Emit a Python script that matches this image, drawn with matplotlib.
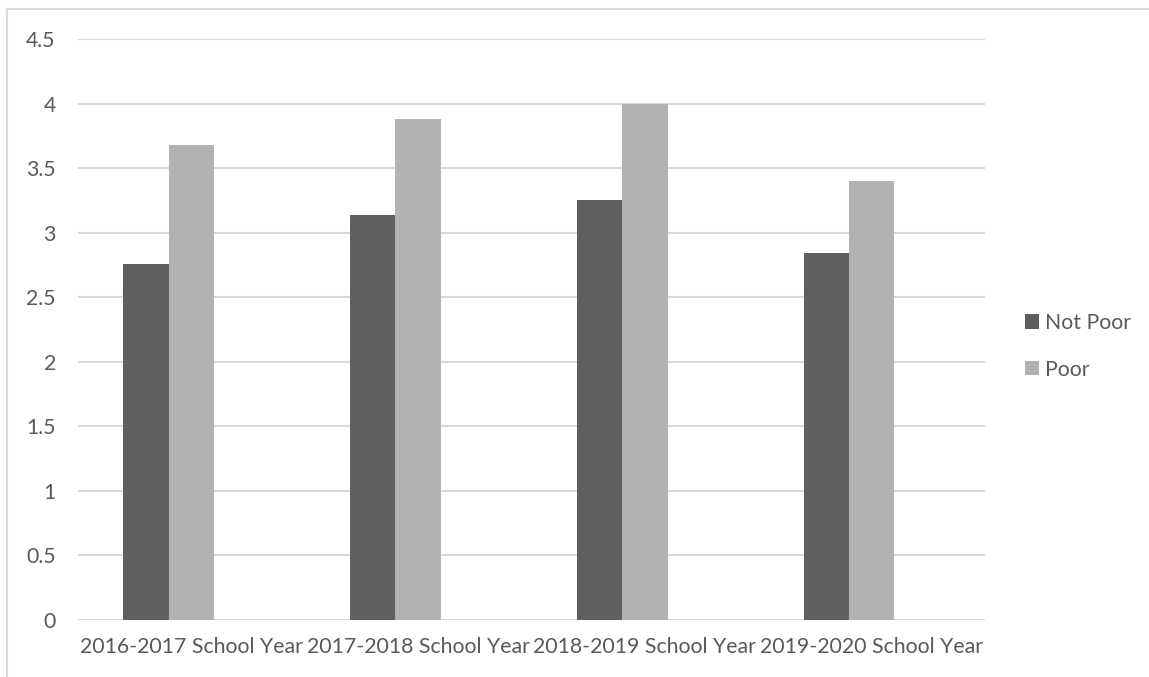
import numpy as np
import matplotlib
matplotlib.use("Agg")
import matplotlib.pyplot as plt
from matplotlib.lines import Line2D

# Datos
years = ["2016-2017 School Year", "2017-2018 School Year",
         "2018-2019 School Year", "2019-2020 School Year"]
not_poor = [2.76, 3.14, 3.25, 2.84]
poor = [3.68, 3.88, 4.00, 3.40]
yticks = [0, 0.5, 1, 1.5, 2, 2.5, 3, 3.5, 4, 4.5]

plt.rcParams["font.family"] = ["Lato", "DejaVu Sans"]
text_color = "#595959"
fsize = 15.3

fig = plt.figure(figsize=(11.49, 6.77), dpi=100)
ax = fig.add_axes([78 / 1149, 1 - 620 / 677, (985 - 78) / 1149, (620 - 39) / 677])

x = np.arange(len(years))
width = 0.2  # tres barras por grupo (la tercera serie vacia)

ax.bar(x - width, not_poor, width=width, color="#5f5f5f", label="Not Poor", zorder=3)
ax.bar(x, poor, width=width, color="#b2b2b2", label="Poor", zorder=3)

ax.set_xlim(-0.5, len(years) - 0.5)
ax.set_ylim(0, 4.5)
ax.set_yticks(yticks)
ax.set_yticklabels([f"{v:g}" for v in yticks])
ax.set_xticks(x)
ax.set_xticklabels(years)
ax.grid(axis="y", color="#d9d9d9", linewidth=1.5, zorder=0)
ax.tick_params(axis="both", length=0, labelsize=fsize, colors=text_color)
ax.tick_params(axis="y", pad=16)
ax.tick_params(axis="x", pad=12)
for s in ax.spines.values():
    s.set_visible(False)

ax.legend(loc="upper left", bbox_to_anchor=(1025 / 1149, 1 - 313 / 677),
          bbox_transform=fig.transFigure, frameon=False, fontsize=fsize,
          labelcolor=text_color, handlelength=0.66, handleheight=0.66,
          handletextpad=0.3, labelspacing=1.25, borderpad=0, borderaxespad=0)

# Borde del area del grafico
fig.add_artist(Line2D([7 / 1149, 7 / 1149], [0, 1 - 9 / 677],
                      transform=fig.transFigure, color="#d9d9d9", linewidth=1.5))
fig.add_artist(Line2D([7 / 1149, 1], [1 - 9 / 677, 1 - 9 / 677],
                      transform=fig.transFigure, color="#d9d9d9", linewidth=1.5))

fig.savefig("out.png", dpi=100)
